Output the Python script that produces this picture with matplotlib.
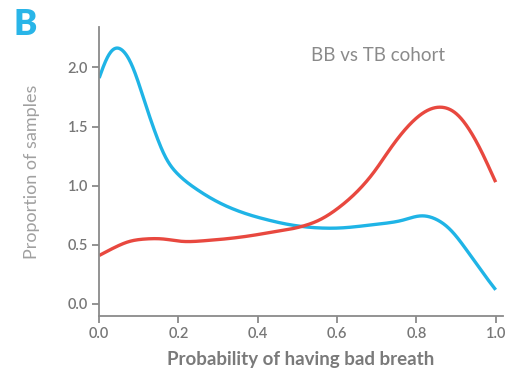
import numpy as np
import matplotlib.pyplot as plt

plt.rcParams['font.family'] = ['Lato', 'DejaVu Sans']

# values
blue_x = [0.0, 0.015, 0.028, 0.045, 0.065, 0.082, 0.099, 0.12, 0.141, 0.166, 0.2,
          0.25, 0.3, 0.368, 0.42, 0.48, 0.59, 0.69, 0.758, 0.821, 0.85,
          0.884, 0.926, 0.968, 1.0]
blue_y = [1.91, 2.07, 2.16, 2.19, 2.14, 2.05, 1.88, 1.65, 1.45, 1.23, 1.09,
          0.96, 0.86, 0.765, 0.715, 0.67, 0.64, 0.67, 0.70, 0.75, 0.72,
          0.64, 0.46, 0.26, 0.12]
red_x = [0.0, 0.04, 0.074, 0.116, 0.166, 0.2, 0.284, 0.368, 0.44, 0.506, 0.557,
         0.607, 0.657, 0.695, 0.733, 0.783, 0.817, 0.859, 0.9, 0.951, 1.0]
red_y = [0.41, 0.48, 0.53, 0.55, 0.55, 0.53, 0.54, 0.57, 0.61, 0.65, 0.71,
         0.82, 0.97, 1.12, 1.31, 1.52, 1.62, 1.67, 1.62, 1.38, 1.03]


def smooth(x, y, n=30, sigma=0.015):
    # cubic hermite through the read points, then a light gaussian to round kinks
    x = np.asarray(x, float)
    y = np.asarray(y, float)
    m = np.gradient(y, x)
    ox, oy = [], []
    for i in range(len(x) - 1):
        h = x[i + 1] - x[i]
        t = np.linspace(0, 1, n, endpoint=False)
        h00 = 2 * t**3 - 3 * t**2 + 1
        h10 = t**3 - 2 * t**2 + t
        h01 = -2 * t**3 + 3 * t**2
        h11 = t**3 - t**2
        ox.extend(x[i] + t * h)
        oy.extend(h00 * y[i] + h10 * h * m[i] + h01 * y[i + 1] + h11 * h * m[i + 1])
    ox.append(x[-1])
    oy.append(y[-1])
    gx = np.linspace(x[0], x[-1], 1001)
    gy = np.interp(gx, ox, oy)
    dx = gx[1] - gx[0]
    k = int(4 * sigma / dx)
    kern = np.exp(-0.5 * (np.arange(-k, k + 1) * dx / sigma) ** 2)
    kern /= kern.sum()
    # odd reflection at the ends keeps end values and slopes
    pad = np.concatenate([2 * gy[0] - gy[k:0:-1], gy, 2 * gy[-1] - gy[-2:-k - 2:-1]])
    sy = np.convolve(pad, kern, mode='valid')
    return gx, sy


fig = plt.figure(figsize=(5.11, 3.72), dpi=100)
ax = fig.add_axes([0.194, 0.151, 0.79, 0.776])

bx, by = smooth(blue_x, blue_y)
rx, ry = smooth(red_x, red_y)
ax.plot(bx, by, color='#1fb4e6', lw=2.4, solid_capstyle='butt')
ax.plot(rx, ry, color='#e8483f', lw=2.4, solid_capstyle='butt')

ax.set_xlim(0, 1.018)
ax.set_ylim(-0.1, 2.34)
ax.set_xticks([0.0, 0.2, 0.4, 0.6, 0.8, 1.0])
ax.set_yticks([0.0, 0.5, 1.0, 1.5, 2.0])
ax.xaxis.set_major_formatter(plt.FormatStrFormatter('%.1f'))
ax.yaxis.set_major_formatter(plt.FormatStrFormatter('%.1f'))

for s in ['top', 'right']:
    ax.spines[s].set_visible(False)
for s in ['left', 'bottom']:
    ax.spines[s].set_color('#8a8a8a')
    ax.spines[s].set_linewidth(1.3)
ax.tick_params(colors='#8a8a8a', labelcolor='#777777', labelsize=10.5, length=5,
               width=1.3, pad=3)
for lab in ax.get_xticklabels() + ax.get_yticklabels():
    lab.set_fontweight('semibold')

ax.set_xlabel('Probability of having bad breath', fontsize=13.5, fontweight='bold',
              color='#7a7a7a', labelpad=7)
ax.set_ylabel('Proportion of samples', fontsize=13, color='#a0a0a0', labelpad=20)

ax.text(0.69, 0.903, 'BB vs TB cohort', transform=ax.transAxes, fontsize=13.5,
        color='#8a8a8a', ha='center', va='center')
fig.text(0.027, 0.935, 'B', fontsize=25, fontweight='heavy', color='#29b5e8',
         ha='left', va='center')

fig.savefig('out.png', dpi=100)
